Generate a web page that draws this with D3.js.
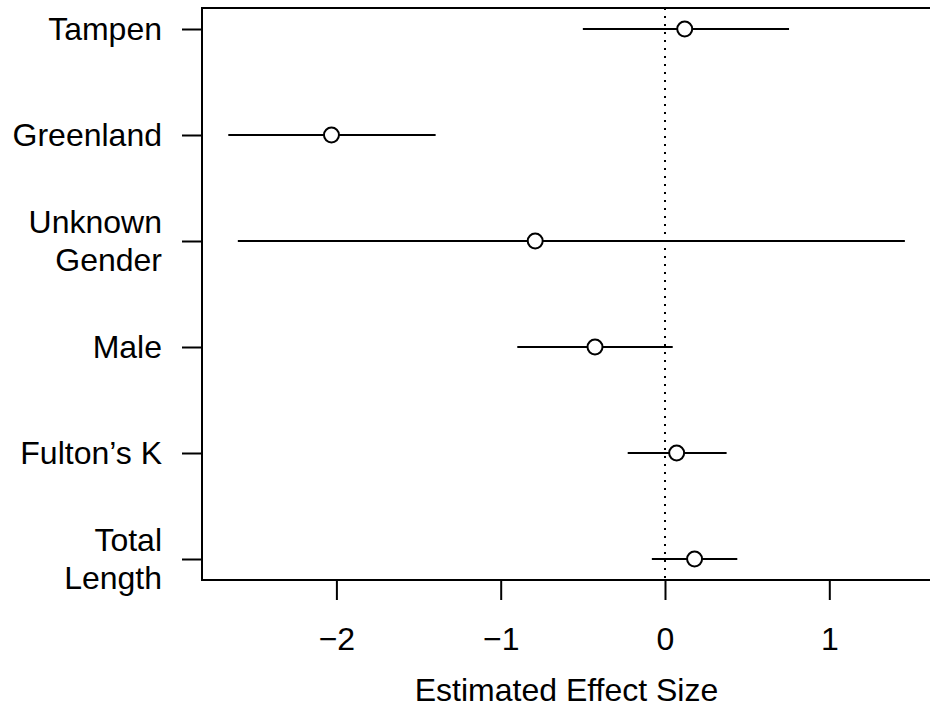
<!DOCTYPE html>
<html>
<head>
<meta charset="utf-8">
<script src="https://cdn.jsdelivr.net/npm/d3@7"></script>
<style>
  html, body { margin: 0; padding: 0; background: #fff; }
  svg { display: block; }
  text { font-family: "Liberation Sans", Arial, sans-serif; fill: #000; }
</style>
</head>
<body>
<svg id="chart" width="930" height="707"></svg>
<script>
// ---- data ----
const categories = [["Tampen"], ["Greenland"], ["Unknown", "Gender"], ["Male"], ["Fulton\u2019s K"], ["Total", "Length"]];
const estimates = [0.12, -2.03, -0.79, -0.426, 0.071, 0.18];
const lower = [-0.50, -2.658, -2.60, -0.899, -0.227, -0.08];
const upper = [0.755, -1.396, 1.46, 0.047, 0.375, 0.44];
const xTicks = [-2, -1, 0, 1];
const xLabel = "Estimated Effect Size";

// ---- layout ----
const M = { left: 202, right: 931, top: 8, bottom: 580 };
const fs = 32;

const svg = d3.select("#chart");

const x = d3.scaleLinear().domain([-2.818, 1.619]).range([M.left, M.right]);
const y = d3.scalePoint().domain(d3.range(categories.length)).range([29, 559]);

// zero reference line
svg.append("line")
  .attr("x1", x(0)).attr("x2", x(0))
  .attr("y1", M.top).attr("y2", M.bottom)
  .attr("stroke", "#000").attr("stroke-width", 2)
  .attr("stroke-dasharray", "2,6");

// box (top, left, bottom)
svg.append("path")
  .attr("d", `M${M.right},${M.top}H${M.left}V${M.bottom}H${M.right}`)
  .attr("fill", "none").attr("stroke", "#000").attr("stroke-width", 2);

// x axis
const xAxis = d3.axisBottom(x).tickValues(xTicks).tickSize(20).tickPadding(8)
  .tickFormat(d => d < 0 ? "\u2212" + Math.abs(d) : String(d));
const gx = svg.append("g").attr("transform", `translate(0,${M.bottom})`).call(xAxis);
gx.select(".domain").remove();
gx.selectAll(".tick line").attr("stroke", "#000").attr("stroke-width", 2);
gx.selectAll(".tick text").attr("font-size", fs).attr("font-family", "Liberation Sans, Arial, sans-serif")
  .attr("dy", null).attr("y", 70).attr("fill", "#000");

// y axis
const yAxis = d3.axisLeft(y).tickSize(20).tickFormat(() => "");
const gy = svg.append("g").attr("transform", `translate(${M.left},0)`).call(yAxis);
gy.select(".domain").remove();
gy.selectAll(".tick line").attr("stroke", "#000").attr("stroke-width", 2);

// y labels (multi-line)
const lh = 38;
categories.forEach((lines, i) => {
  const t = svg.append("text")
    .attr("text-anchor", "end")
    .attr("font-size", fs);
  const n = lines.length;
  lines.forEach((ln, j) => {
    t.append("tspan")
      .attr("x", 162)
      .attr("y", y(i) + (j - (n - 1) / 2) * lh)
      .attr("dy", "0.35em")
      .text(ln);
  });
});

// x label
svg.append("text")
  .attr("x", (M.left + M.right) / 2)
  .attr("y", 701)
  .attr("text-anchor", "middle")
  .attr("font-size", fs)
  .text(xLabel);

// error bars
const idx = d3.range(categories.length);
svg.append("g").selectAll("line").data(idx).join("line")
  .attr("x1", i => x(lower[i])).attr("x2", i => x(upper[i]))
  .attr("y1", i => y(i)).attr("y2", i => y(i))
  .attr("stroke", "#000").attr("stroke-width", 2);

// points
svg.append("g").selectAll("circle").data(idx).join("circle")
  .attr("cx", i => x(estimates[i])).attr("cy", i => y(i))
  .attr("r", 7.5)
  .attr("fill", "#fff").attr("stroke", "#000").attr("stroke-width", 2);
</script>
</body>
</html>
